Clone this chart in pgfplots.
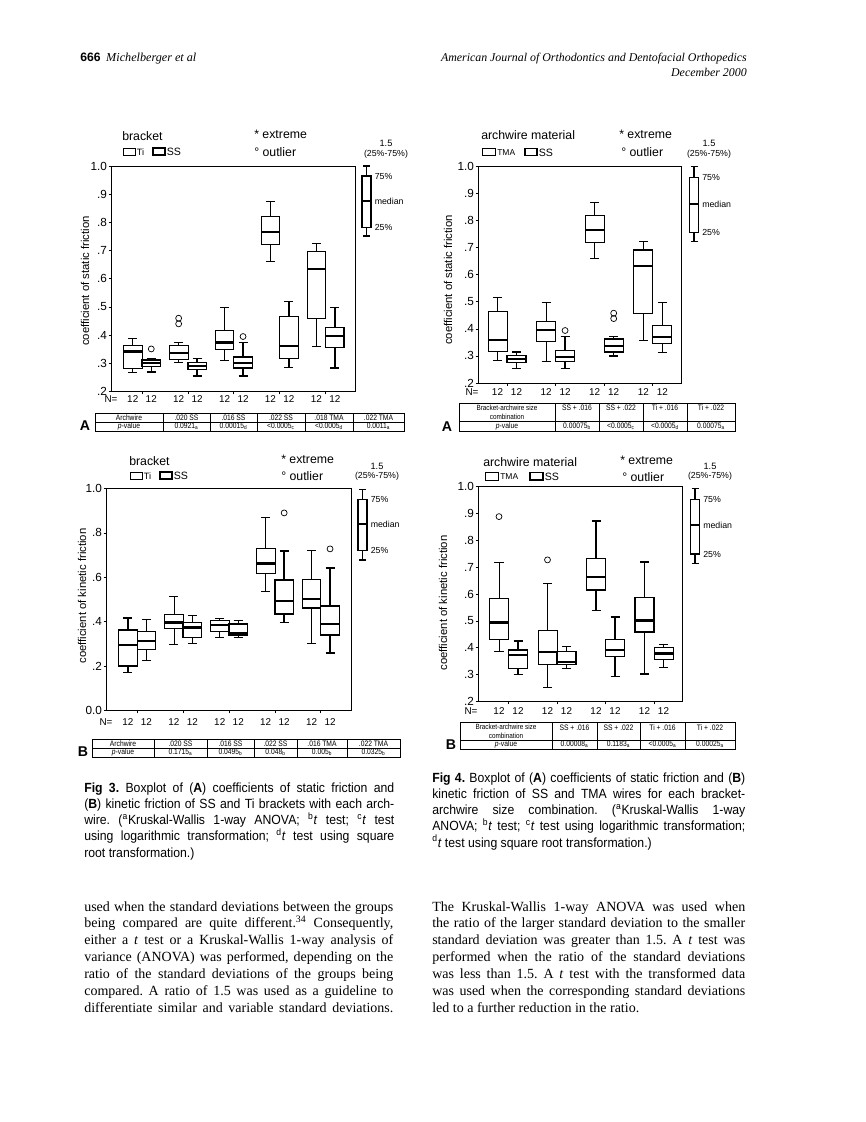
\documentclass[border=0pt]{standalone}
\usepackage{fontspec}
\setmainfont{Liberation Serif}
\setsansfont{Liberation Sans}
\newfontfamily\capfont[FakeStretch=0.92]{Liberation Sans}
\newfontfamily\tabfont[FakeStretch=0.85]{Liberation Sans}
\usepackage{pgfplots}
\pgfplotsset{compat=1.18}
\usepgfplotslibrary{statistics}
\frenchspacing
\newcommand\fs[2]{\fontsize{#1}{#2}\selectfont}
\pgfplotsset{
  thinbox/.style={draw=black, line width=0.45pt, mark=o, mark size=2.1pt, mark options={solid, line width=0.5pt}},
  thickbox/.style={draw=black, line width=0.95pt, mark=o, mark size=2.1pt, mark options={solid, line width=0.5pt}},
  bpax/.style={scale only axis, clip=false, anchor=north west,
    axis line style={line width=0.6pt}, tick style={black, line width=0.5pt},
    major tick length=2pt, tick align=outside, ytick pos=left, xtick pos=bottom,
    xticklabels={}, boxplot/draw direction=y,
    boxplot/every median/.style={line width=1.6pt},
    yticklabel style={font=\sffamily\fs{8.3}{9}, inner xsep=1pt},
  },
}
\newcommand\bp[8]{\addplot[#2, boxplot prepared={draw position=#1, lower whisker=#3, lower quartile=#4, median=#5, upper quartile=#6, upper whisker=#7}] coordinates {#8};}
\tikzset{
  tt/.style={font=\tabfont\fs{5.6}{6.2}, inner sep=0, align=center},
  tt2/.style={font=\tabfont\fs{5.3}{5.9}, inner sep=0, align=center},
  kl/.style={font=\sffamily\fs{6.2}{7}, inner sep=0, anchor=west},
  lg/.style={font=\sffamily\fs{8.7}{10}, inner sep=0, anchor=west},
  nl/.style={font=\sffamily\fs{7}{8}, inner sep=0},
  yl/.style={font=\sffamily\fs{8}{9}, inner sep=0, rotate=90},
  pl/.style={font=\sffamily\bfseries\fs{10}{12}, inner sep=0},
}
\newcommand\key[8]{% cx, ytop, yq3, ymed, yq1, ybot, x15, y15
  \draw[line width=0.9pt] (#1-3.5,#2) -- (#1+3.5,#2) (#1,#2) -- (#1,#3) (#1,#5) -- (#1,#6) (#1-3.5,#6) -- (#1+3.5,#6);
  \draw[line width=0.9pt] (#1-4.5,#3) rectangle (#1+4.5,#5);
  \draw[line width=1.3pt] (#1-4.5,#4) -- (#1+4.5,#4);
  \node[kl] at (#1+8,#3) {75\%};
  \node[kl] at (#1+8,#4) {median};
  \node[kl] at (#1+8,#5) {25\%};
  \node[font=\sffamily\fs{6.5}{7}, inner sep=0] at (#7,#8) {1.5};
  \node[font=\sffamily\fs{6.2}{7}, inner sep=0] at (#7,#8+10.5) {(25\%-75\%)};
}
\begin{document}
\begin{tikzpicture}
\begin{scope}[x=0.706697pt, y=-0.706697pt]
\fill[white] (0,0) rectangle (866,1122);
% header
\node[anchor=base west, inner sep=0] at (80,61) {{\sffamily\bfseries\fs{8.6}{10}666}\hspace{4pt}{\itshape\fs{8.6}{10}Michelberger et al}};
\node[anchor=base east, inner sep=0, font=\itshape\fs{8.4}{10}] at (747,61) {American Journal of Orthodontics and Dentofacial Orthopedics};
\node[anchor=base east, inner sep=0, font=\itshape\fs{8.4}{10}] at (747,76) {December 2000};

% ---------- Fig 3A annotations
\node[lg] at (122,136.5) {bracket};
\draw[line width=0.45pt] (123,148) rectangle (135,155);
\node[kl, font=\sffamily\fs{6.5}{7}] at (136.5,152) {Ti};
\draw[line width=0.95pt] (153,148) rectangle (165,155);
\node[kl, font=\sffamily\fs{7.5}{8}] at (166.5,152) {SS};
\node[lg] at (254,134.5) {* extreme};
\node[lg] at (254,152) {° outlier};
\key{366.5}{166}{176}{201}{227.5}{236}{386}{143.5}
\node[yl] at (85,281) {coefficient of static friction};
\node[nl] at (111,399.5) {N=};
\foreach \x in {132.75,151.25,178.65,197.15,224.55,243.05,270.45,288.95,316.35,334.85} \node[nl] at (\x,399.5) {12};
\draw[line width=0.5pt] (95,413) rectangle (404,431) (95,422) -- (404,422);
\foreach \x in {163,210,257,305,353} \draw[line width=0.5pt] (\x,413) -- (\x,431);
\node[tt] at (129,417.5) {Archwire};
\node[tt] at (186.5,417.5) {.020 SS};
\node[tt] at (233.5,417.5) {.016 SS};
\node[tt] at (281,417.5) {.022 SS};
\node[tt] at (329,417.5) {.018 TMA};
\node[tt] at (378.5,417.5) {.022 TMA};
\node[tt] at (129,426.5) {\textit{p}-value};
\node[tt] at (186.5,426.5) {0.0921\textsubscript{a}};
\node[tt] at (233.5,426.5) {0.00015\textsubscript{d}};
\node[tt] at (281,426.5) {<0.0005\textsubscript{c}};
\node[tt] at (329,426.5) {<0.0005\textsubscript{d}};
\node[tt] at (378.5,426.5) {0.0011\textsubscript{a}};
\node[pl] at (85,426) {A};

% ---------- Fig 4A annotations
\node[lg] at (481,135) {archwire material};
\draw[line width=0.45pt] (482,148.5) rectangle (495,155.5);
\node[kl, font=\sffamily\fs{6}{7}] at (497,152.5) {TMA};
\draw[line width=0.95pt] (525,148.5) rectangle (537,155.5);
\node[kl, font=\sffamily\fs{7.5}{8}] at (538.5,152.5) {SS};
\node[lg] at (619,134.5) {* extreme};
\node[lg] at (621,152.5) {° outlier};
\key{694}{166.7}{177.3}{204}{232.7}{241.7}{709}{143.5}
\node[yl] at (448,280) {coefficient of static friction};
\node[nl] at (472,392.5) {N=};
\foreach \x in {497.5,516.5,546.1,565.1,594.7,613.7,643.3,662.3} \node[nl] at (\x,392.5) {12};
\draw[line width=0.5pt] (459,403) rectangle (735,431) (459,421.5) -- (735,421.5);
\foreach \x in {555,599,643,687} \draw[line width=0.5pt] (\x,403) -- (\x,431);
\node[tt2] at (507,412.3) {Bracket-archwire size\\combination};
\node[tt] at (577,408) {SS + .016};
\node[tt] at (621,408) {SS + .022};
\node[tt] at (665,408) {Ti + .016};
\node[tt] at (711,408) {Ti + .022};
\node[tt] at (507,426.3) {\textit{p}-value};
\node[tt] at (577,426.3) {0.00075\textsubscript{b}};
\node[tt] at (621,426.3) {<0.0005\textsubscript{c}};
\node[tt] at (665,426.3) {<0.0005\textsubscript{d}};
\node[tt] at (711,426.3) {0.00075\textsubscript{a}};
\node[pl] at (447,427) {A};

% ---------- Fig 3B annotations
\node[lg] at (129,461.5) {bracket};
\draw[line width=0.45pt] (130,472) rectangle (142,479);
\node[kl, font=\sffamily\fs{6.5}{7}] at (143.5,476) {Ti};
\draw[line width=0.95pt] (160,472) rectangle (172,479);
\node[kl, font=\sffamily\fs{7.5}{8}] at (173.5,476) {SS};
\node[lg] at (281,459.5) {* extreme};
\node[lg] at (281,476) {° outlier};
\key{362.5}{489.3}{499.3}{524.3}{550.7}{560}{377}{466}
\node[yl] at (82,596) {coefficient of kinetic friction};
\node[nl] at (106,722) {N=};
\foreach \x in {127.95,146.45,173.85,192.35,219.75,238.25,265.65,284.15,311.55,330.05} \node[nl] at (\x,722) {12};
\draw[line width=0.5pt] (92,739) rectangle (400,757) (92,748) -- (400,748);
\foreach \x in {154,207,254,297,347} \draw[line width=0.5pt] (\x,739) -- (\x,757);
\node[tt] at (123,743.5) {Archwire};
\node[tt] at (180.5,743.5) {.020 SS};
\node[tt] at (230.5,743.5) {.016 SS};
\node[tt] at (275.5,743.5) {.022 SS};
\node[tt] at (322,743.5) {.016 TMA};
\node[tt] at (373.5,743.5) {.022 TMA};
\node[tt] at (123,752.5) {\textit{p}-value};
\node[tt] at (180.5,752.5) {0.1715\textsubscript{a}};
\node[tt] at (230.5,752.5) {0.0495\textsubscript{b}};
\node[tt] at (275.5,752.5) {0.048\textsubscript{b}};
\node[tt] at (322,752.5) {0.005\textsubscript{b}};
\node[tt] at (373.5,752.5) {0.0325\textsubscript{b}};
\node[pl] at (83,752) {B};

% ---------- Fig 4B annotations
\node[lg] at (483,462.5) {archwire material};
\draw[line width=0.45pt] (485,472.5) rectangle (498,480);
\node[kl, font=\sffamily\fs{6}{7}] at (500,476.5) {TMA};
\draw[line width=0.95pt] (530,472.5) rectangle (543,480);
\node[kl, font=\sffamily\fs{7.5}{8}] at (544.5,476.5) {SS};
\node[lg] at (620,460.5) {* extreme};
\node[lg] at (622,477) {° outlier};
\key{695}{488.3}{499.3}{525}{554}{563.3}{710}{466}
\node[yl] at (443,603) {coefficient of kinetic friction};
\node[nl] at (471,711.5) {N=};
\foreach \x in {499,518,547.5,566.5,596,615,644.5,663.5} \node[nl] at (\x,711.5) {12};
\draw[line width=0.5pt] (460,722.5) rectangle (735,749) (460,740) -- (735,740);
\foreach \x in {552,597,640,685} \draw[line width=0.5pt] (\x,722.5) -- (\x,749);
\node[tt2] at (506,731.3) {Bracket-archwire size\\combination};
\node[tt] at (574.5,727.5) {SS + .016};
\node[tt] at (618.5,727.5) {SS + .022};
\node[tt] at (662.5,727.5) {Ti + .016};
\node[tt] at (710,727.5) {Ti + .022};
\node[tt] at (506,744.5) {\textit{p}-value};
\node[tt] at (574.5,744.5) {0.00008\textsubscript{a}};
\node[tt] at (618.5,744.5) {0.1183\textsubscript{a}};
\node[tt] at (662.5,744.5) {<0.0005\textsubscript{a}};
\node[tt] at (710,744.5) {0.00025\textsubscript{a}};
\node[pl] at (451,745) {B};

% ---------- captions
\node[anchor=base west, inner sep=0, text width=219.08pt, align=justify] at (84,792) {\capfont\fs{9.4}{11.5}\tolerance=10000\hyphenpenalty=10000
\textbf{Fig 3.} Boxplot of (\textbf{A}) coefficients of static friction and\linebreak
(\textbf{B}) kinetic friction of SS and Ti brackets with each arch-\linebreak
wire. (\textsuperscript{a}Kruskal-Wallis 1-way ANOVA; \textsuperscript{b}\textit{t} test; \textsuperscript{c}\textit{t} test\linebreak
using logarithmic transformation; \textsuperscript{d}\textit{t} test using square\linebreak
root transformation.)\par};
\node[anchor=base west, inner sep=0, text width=221.2pt, align=justify] at (432,782) {\capfont\fs{9.4}{11.5}\tolerance=10000\hyphenpenalty=10000
\textbf{Fig 4.} Boxplot of (\textbf{A}) coefficients of static friction and (\textbf{B})\linebreak
kinetic friction of SS and TMA wires for each bracket-\linebreak
archwire size combination. (\textsuperscript{a}Kruskal-Wallis 1-way\linebreak
ANOVA; \textsuperscript{b}\textit{t} test; \textsuperscript{c}\textit{t} test using logarithmic transformation;\linebreak
\textsuperscript{d}\textit{t} test using square root transformation.)\par};

% ---------- body text
\node[anchor=base west, inner sep=0, text width=218.4pt, align=justify] at (84,911) {\rmfamily\fs{9.9}{11.9}\tolerance=10000\hyphenpenalty=10000\parfillskip=0pt
used when the standard deviations between the groups\linebreak
being compared are quite different.\textsuperscript{34} Consequently,\linebreak
either a \textit{t} test or a Kruskal-Wallis 1-way analysis of\linebreak
variance (ANOVA) was performed, depending on the\linebreak
ratio of the standard deviations of the groups being\linebreak
compared. A ratio of 1.5 was used as a guideline to\linebreak
differentiate similar and variable standard deviations.\par};
\node[anchor=base west, inner sep=0, text width=221.2pt, align=justify] at (432,911) {\rmfamily\fs{9.9}{11.9}\tolerance=10000\hyphenpenalty=10000
The Kruskal-Wallis 1-way ANOVA was used when\linebreak
the ratio of the larger standard deviation to the smaller\linebreak
standard deviation was greater than 1.5. A \textit{t} test was\linebreak
performed when the ratio of the standard deviations\linebreak
was less than 1.5. A \textit{t} test with the transformed data\linebreak
was used when the corresponding standard deviations\linebreak
led to a further reduction in the ratio.\par};
\end{scope}

% ================= Fig 3A: static friction, Ti vs SS brackets
\begin{axis}[bpax, at={(78.80pt,-117.31pt)}, width=172.08pt, height=159.36pt,
  xmin=111.5, xmax=355, ymin=0.2, ymax=1.0,
  ytick={0.2,0.3,0.4,0.5,0.6,0.7,0.8,0.9,1.0}, yticklabels={.2,.3,.4,.5,.6,.7,.8,.9,1.0},
  xtick={142,187.9,233.8,279.7,325.6},
  boxplot/box extend=18.5, boxplot/whisker extend=9]
\bp{132.75}{thinbox}{0.269}{0.283}{0.342}{0.363}{0.389}{}
\bp{151.25}{thickbox}{0.269}{0.289}{0.300}{0.312}{0.315}{(0,0.351)}
\bp{178.65}{thinbox}{0.303}{0.315}{0.336}{0.363}{0.374}{(0,0.460) (0,0.440)}
\bp{197.15}{thickbox}{0.255}{0.279}{0.291}{0.303}{0.317}{}
\bp{224.55}{thinbox}{0.312}{0.348}{0.374}{0.416}{0.499}{}
\bp{243.05}{thickbox}{0.255}{0.283}{0.300}{0.322}{0.374}{(0,0.395)}
\bp{270.45}{thinbox}{0.661}{0.723}{0.767}{0.820}{0.874}{}
\bp{288.95}{thickbox}{0.286}{0.318}{0.362}{0.466}{0.519}{}
\bp{316.35}{thinbox}{0.360}{0.458}{0.634}{0.696}{0.726}{}
\bp{334.85}{thickbox}{0.283}{0.356}{0.397}{0.428}{0.498}{}
\end{axis}

% ================= Fig 4A: static friction, TMA vs SS wires
\begin{axis}[bpax, at={(338.15pt,-117.67pt)}, width=143.46pt, height=153.00pt,
  xmin=478.5, xmax=681.5, ymin=0.2, ymax=1.0,
  ytick={0.2,0.3,0.4,0.5,0.6,0.7,0.8,0.9,1.0}, yticklabels={.2,.3,.4,.5,.6,.7,.8,.9,1.0},
  xtick={507,555.6,604.2,652.8},
  boxplot/box extend=19, boxplot/whisker extend=9]
\bp{497.5}{thinbox}{0.284}{0.317}{0.360}{0.464}{0.518}{}
\bp{516.5}{thickbox}{0.253}{0.276}{0.288}{0.302}{0.314}{}
\bp{546.1}{thinbox}{0.280}{0.355}{0.396}{0.427}{0.497}{}
\bp{565.1}{thickbox}{0.253}{0.280}{0.296}{0.320}{0.372}{(0,0.394)}
\bp{594.7}{thinbox}{0.660}{0.721}{0.766}{0.820}{0.869}{}
\bp{613.7}{thickbox}{0.300}{0.314}{0.336}{0.362}{0.372}{(0,0.458) (0,0.438)}
\bp{643.3}{thickbox}{0.357}{0.458}{0.632}{0.692}{0.724}{}
\bp{662.3}{thinbox}{0.312}{0.348}{0.369}{0.412}{0.499}{}
\end{axis}

% ================= Fig 3B: kinetic friction, Ti vs SS brackets
\begin{axis}[bpax, at={(75.26pt,-345.22pt)}, width=173.14pt, height=156.89pt,
  xmin=106.5, xmax=351.5, ymin=0, ymax=1.0,
  ytick={0,0.2,0.4,0.6,0.8,1.0}, yticklabels={0.0,.2,.4,.6,.8,1.0},
  xtick={137.2,183.1,229.0,274.9,320.8},
  boxplot/box extend=18.5, boxplot/whisker extend=9]
\bp{127.95}{thickbox}{0.171}{0.200}{0.296}{0.362}{0.417}{}
\bp{146.45}{thinbox}{0.227}{0.274}{0.314}{0.358}{0.409}{}
\bp{173.85}{thinbox}{0.296}{0.370}{0.396}{0.433}{0.513}{}
\bp{192.35}{thickbox}{0.303}{0.330}{0.374}{0.396}{0.429}{}
\bp{219.75}{thinbox}{0.328}{0.358}{0.384}{0.406}{0.417}{}
\bp{238.25}{thickbox}{0.328}{0.340}{0.347}{0.389}{0.406}{}
\bp{265.65}{thinbox}{0.539}{0.616}{0.662}{0.731}{0.871}{}
\bp{284.15}{thickbox}{0.395}{0.435}{0.492}{0.588}{0.719}{(0,0.890)}
\bp{311.55}{thickbox}{0.303}{0.461}{0.503}{0.591}{0.721}{}
\bp{330.05}{thickbox}{0.259}{0.340}{0.389}{0.470}{0.642}{(0,0.728)}
\end{axis}

% ================= Fig 4B: kinetic friction, TMA vs SS wires
\begin{axis}[bpax, at={(338.15pt,-343.81pt)}, width=144.17pt, height=151.94pt,
  xmin=478.5, xmax=682.5, ymin=0.2, ymax=1.0,
  ytick={0.2,0.3,0.4,0.5,0.6,0.7,0.8,0.9,1.0}, yticklabels={.2,.3,.4,.5,.6,.7,.8,.9,1.0},
  xtick={508.5,557,605.5,654},
  boxplot/box extend=19, boxplot/whisker extend=9]
\bp{499}{thinbox}{0.388}{0.431}{0.494}{0.585}{0.717}{(0,0.888)}
\bp{518}{thickbox}{0.300}{0.323}{0.372}{0.392}{0.425}{}
\bp{547.5}{thinbox}{0.254}{0.338}{0.385}{0.466}{0.640}{(0,0.727)}
\bp{566.5}{thickbox}{0.323}{0.337}{0.346}{0.385}{0.405}{}
\bp{596}{thickbox}{0.538}{0.615}{0.662}{0.731}{0.872}{}
\bp{615}{thickbox}{0.294}{0.368}{0.393}{0.430}{0.514}{}
\bp{644.5}{thickbox}{0.302}{0.459}{0.501}{0.588}{0.719}{}
\bp{663.5}{thinbox}{0.326}{0.358}{0.379}{0.402}{0.413}{}
\end{axis}

\pgfresetboundingbox
\path (0pt,0pt) rectangle (612pt,-792.91pt);
\end{tikzpicture}
\end{document}
